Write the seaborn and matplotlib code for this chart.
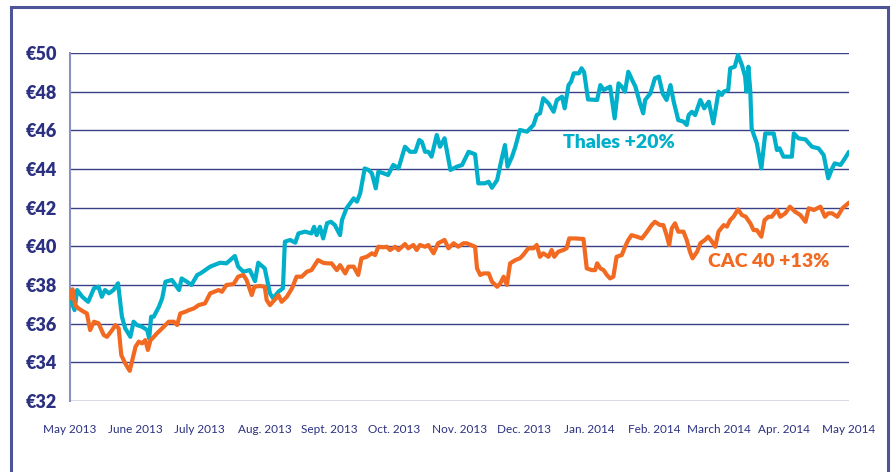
import pandas as pd
import seaborn as sns
import matplotlib.pyplot as plt
from matplotlib.patches import Rectangle

# x = months since May 2013 (equal monthly spacing on the axis)
month_labels = ['May 2013', 'June 2013', 'July 2013', 'Aug. 2013', 'Sept. 2013',
                'Oct. 2013', 'Nov. 2013', 'Dec. 2013', 'Jan. 2014', 'Feb. 2014',
                'March 2014', 'Apr. 2014', 'May 2014']
price_ticks = [32, 34, 36, 38, 40, 42, 44, 46, 48, 50]

thales_x = [0.00, 0.07, 0.11, 0.19, 0.28, 0.37, 0.44, 0.49, 0.54, 0.60, 0.67, 0.74,
            0.80, 0.85, 0.93, 0.98, 1.03, 1.11, 1.19, 1.22, 1.25, 1.29, 1.37, 1.42,
            1.47, 1.57, 1.68, 1.72, 1.80, 1.87, 1.96, 2.01, 2.16, 2.31, 2.41, 2.54,
            2.59, 2.67, 2.77, 2.85, 2.90, 3.00, 3.08, 3.13, 3.21, 3.28, 3.31, 3.39,
            3.47, 3.52, 3.62, 3.72, 3.76, 3.80, 3.85, 3.90, 3.96, 4.02, 4.08, 4.16,
            4.19, 4.26, 4.37, 4.42, 4.47, 4.54, 4.60, 4.65, 4.71, 4.75, 4.83, 4.90,
            4.98, 5.06, 5.16, 5.24, 5.32, 5.38, 5.42, 5.47, 5.52, 5.57, 5.65, 5.70,
            5.77, 5.86, 5.96, 6.04, 6.14, 6.24, 6.29, 6.39, 6.45, 6.50, 6.58, 6.64,
            6.70, 6.74, 6.81, 6.86, 6.93, 7.04, 7.14, 7.19, 7.24, 7.29, 7.37, 7.45,
            7.50, 7.58, 7.62, 7.68, 7.72, 7.76, 7.84, 7.88, 7.92, 7.98, 8.12, 8.17,
            8.22, 8.32, 8.39, 8.45, 8.50, 8.55, 8.60, 8.66, 8.71, 8.78, 8.83, 8.86,
            8.94, 9.01, 9.07, 9.13, 9.19, 9.25, 9.30, 9.37, 9.45, 9.50, 9.53, 9.58,
            9.63, 9.71, 9.77, 9.84, 9.91, 9.99, 10.04, 10.07, 10.14, 10.17, 10.24,
            10.29, 10.35, 10.40, 10.42, 10.45, 10.48, 10.50, 10.58, 10.65, 10.71,
            10.84, 10.89, 10.93, 10.99, 11.12, 11.15, 11.22, 11.33, 11.43, 11.53,
            11.61, 11.68, 11.74, 11.78, 11.87, 11.92, 12.00]
thales_y = [37.31, 36.70, 37.74, 37.39, 37.13, 37.83, 37.91, 37.39, 37.74, 37.57, 37.74, 38.09,
            36.36, 35.76, 35.32, 36.10, 35.93, 35.84, 35.67, 35.24, 36.36, 36.36, 36.88, 37.31,
            38.17, 38.26, 37.74, 38.34, 38.17, 38.00, 38.52, 38.60, 38.95, 39.15, 39.12, 39.50,
            38.95, 38.69, 38.77, 38.20, 39.15, 38.86, 37.57, 37.31, 37.65, 37.83, 40.24, 40.33,
            40.19, 40.67, 40.76, 40.67, 41.01, 40.58, 41.01, 40.41, 41.20, 41.27, 41.10, 40.58,
            41.36, 41.97, 42.48, 42.31, 42.74, 44.03, 43.95, 43.78, 43.00, 43.86, 43.78, 43.69,
            44.21, 44.03, 45.15, 44.89, 44.89, 45.50, 45.41, 44.89, 44.89, 44.64, 45.76, 45.15,
            45.59, 43.95, 44.12, 44.21, 44.89, 44.76, 43.26, 43.26, 43.34, 43.03, 43.43, 44.38,
            45.24, 44.12, 44.64, 45.15, 46.02, 45.93, 46.28, 46.79, 46.88, 47.66, 47.40, 46.96,
            47.57, 47.74, 47.14, 48.34, 48.52, 48.95, 48.95, 49.21, 49.00, 47.60, 47.57, 48.34,
            48.09, 48.26, 46.62, 48.43, 48.26, 48.00, 49.03, 48.60, 48.26, 47.40, 46.88, 47.57,
            47.91, 48.69, 48.78, 47.91, 47.57, 48.34, 47.48, 46.53, 46.45, 46.28, 46.79, 46.96,
            46.79, 47.57, 47.14, 47.48, 46.36, 48.00, 47.83, 48.00, 48.09, 49.21, 49.29,
            49.90, 49.38, 48.78, 48.00, 49.29, 48.00, 46.10, 45.33, 44.03, 45.84,
            45.84, 44.98, 45.07, 44.64, 44.64, 45.84, 45.59, 45.53, 45.15, 45.07,
            44.72, 43.52, 44.03, 44.29, 44.21, 44.46, 44.89]

cac_x = [0.00, 0.04, 0.08, 0.13, 0.21, 0.26, 0.31, 0.37, 0.44, 0.52, 0.57, 0.65, 0.70,
         0.75, 0.79, 0.85, 0.92, 0.96, 1.01, 1.06, 1.11, 1.16, 1.20, 1.24, 1.27, 1.34,
         1.42, 1.52, 1.60, 1.65, 1.70, 1.78, 1.83, 1.91, 1.98, 2.08, 2.16, 2.29, 2.34,
         2.41, 2.52, 2.59, 2.67, 2.72, 2.80, 2.84, 2.93, 3.00, 3.03, 3.08, 3.16, 3.21,
         3.26, 3.34, 3.42, 3.49, 3.57, 3.65, 3.72, 3.82, 3.90, 3.96, 4.03, 4.11, 4.16,
         4.24, 4.29, 4.37, 4.44, 4.49, 4.57, 4.65, 4.70, 4.75, 4.83, 4.88, 4.93, 5.01,
         5.06, 5.16, 5.21, 5.29, 5.34, 5.39, 5.47, 5.52, 5.60, 5.67, 5.77, 5.83, 5.91,
         5.98, 6.06, 6.11, 6.24, 6.27, 6.32, 6.37, 6.45, 6.50, 6.58, 6.63, 6.68, 6.73,
         6.78, 6.86, 6.93, 6.98, 7.06, 7.14, 7.19, 7.24, 7.29, 7.37, 7.42, 7.46, 7.52,
         7.60, 7.65, 7.69, 7.78, 7.91, 7.96, 8.04, 8.09, 8.12, 8.17, 8.22, 8.27, 8.32,
         8.37, 8.42, 8.50, 8.55, 8.60, 8.65, 8.73, 8.81, 8.89, 8.96, 9.01, 9.09, 9.14,
         9.19, 9.23, 9.27, 9.32, 9.37, 9.45, 9.50, 9.55, 9.59, 9.66, 9.71, 9.78, 9.83,
         9.89, 9.94, 9.99, 10.07, 10.12, 10.17, 10.22, 10.29, 10.35, 10.41, 10.48,
         10.53, 10.58, 10.65, 10.70, 10.76, 10.81, 10.89, 10.94, 11.02, 11.09, 11.17,
         11.25, 11.33, 11.38, 11.46, 11.56, 11.63, 11.68, 11.74, 11.82, 11.90, 12.00]
cac_y = [37.31, 37.78, 36.96, 36.79, 36.62, 36.53, 35.67, 36.10, 36.02, 35.41, 35.32, 35.67, 35.93,
         35.76, 34.38, 33.95, 33.56, 34.12, 34.81, 35.07, 34.98, 35.15, 34.64, 35.15, 35.24, 35.50,
         35.76, 36.10, 36.10, 35.93, 36.53, 36.62, 36.70, 36.79, 36.96, 37.05, 37.57, 37.74, 37.65,
         38.00, 38.05, 38.43, 38.52, 38.26, 37.48, 37.91, 37.95, 37.91, 37.22, 36.96, 37.26, 37.48,
         37.13, 37.39, 37.83, 38.43, 38.43, 38.69, 38.77, 39.29, 39.15, 39.12, 39.12, 38.77, 39.03,
         38.60, 38.95, 38.95, 38.52, 39.38, 39.46, 39.64, 39.55, 39.98, 39.95, 39.98, 39.81, 39.98,
         39.81, 40.12, 39.90, 40.07, 39.81, 40.07, 39.98, 40.07, 39.64, 40.16, 40.33, 39.90, 40.16,
         39.98, 40.16, 40.16, 39.98, 38.86, 38.52, 38.60, 38.60, 38.17, 37.91, 38.09, 38.43, 38.00,
         39.12, 39.29, 39.38, 39.55, 39.90, 39.90, 40.07, 39.46, 39.64, 39.46, 39.81, 39.46, 39.72,
         39.81, 39.90, 40.41, 40.41, 40.38, 38.86, 38.77, 38.77, 39.12, 38.86, 38.77, 38.52, 38.34,
         38.43, 39.46, 39.55, 39.98, 40.33, 40.58, 40.50, 40.41, 40.76, 41.10, 41.27, 41.10, 41.10,
         40.58, 40.07, 40.93, 41.19, 40.76, 40.76, 40.33, 39.72, 39.38, 39.72, 40.16, 40.33, 40.50,
         40.24, 39.98, 40.76, 41.10, 41.02, 41.36, 41.53, 41.91, 41.62, 41.53, 41.19,
         40.84, 40.84, 40.50, 41.36, 41.53, 41.53, 41.88, 41.53, 41.71, 42.05, 41.79,
         41.62, 41.27, 41.97, 41.88, 42.05, 41.53, 41.71, 41.71, 41.53, 41.97, 42.26]

thales = pd.DataFrame({'month': thales_x, 'price': thales_y})
cac = pd.DataFrame({'month': cac_x, 'price': cac_y})

navy = '#2b3081'
frame = '#4e5597'
cyan = '#00afc9'
orange = '#f26a21'

sns.set_style('white')
plt.rcParams['font.family'] = ['Lato', 'DejaVu Sans']

fig = plt.figure(figsize=(8.95, 4.72), dpi=100)
ax = fig.add_axes([0.0782, 0.1504, 0.8704, 0.7373])

for v in price_ticks:
    ax.axhline(v, color='#3a4088', lw=1.0, zorder=1)

sns.lineplot(data=thales, x='month', y='price', color=cyan, lw=3.0,
             estimator=None, ax=ax, zorder=3)
sns.lineplot(data=cac, x='month', y='price', color=orange, lw=3.0,
             estimator=None, ax=ax, zorder=4)

ax.set_xlim(0, 12)
ax.set_ylim(32, 50)
ax.set_xlabel('')
ax.set_ylabel('')

ax.set_yticks(price_ticks)
ax.set_yticklabels([f'€{v}' for v in price_ticks], fontsize=13, fontweight='heavy', color=navy)
ax.set_xticks(range(len(month_labels)))
ax.set_xticklabels(month_labels, fontsize=8.5, color=navy)
ax.tick_params(axis='y', length=0, pad=9)
ax.tick_params(axis='x', length=9.5, width=1.2, color='#6a70a8', pad=7, direction='out')

for side in ['top', 'right', 'bottom']:
    ax.spines[side].set_visible(False)
ax.spines['left'].set_color('#8a90c0')
ax.spines['left'].set_linewidth(1.5)

ax.text(7.6, 45.35, 'Thales +20%', color=cyan, fontsize=14, fontweight='heavy',
        va='center', ha='left')
ax.text(9.83, 39.2, 'CAC 40 +13%', color=orange, fontsize=14, fontweight='heavy',
        va='center', ha='left')

# outer frame of the panel
fig.patches.append(Rectangle((0.0123, -0.05), 0.9804, 1.035, transform=fig.transFigure,
                             fill=False, edgecolor=frame, lw=2.2, clip_on=False))

fig.savefig('out.png', dpi=100)
